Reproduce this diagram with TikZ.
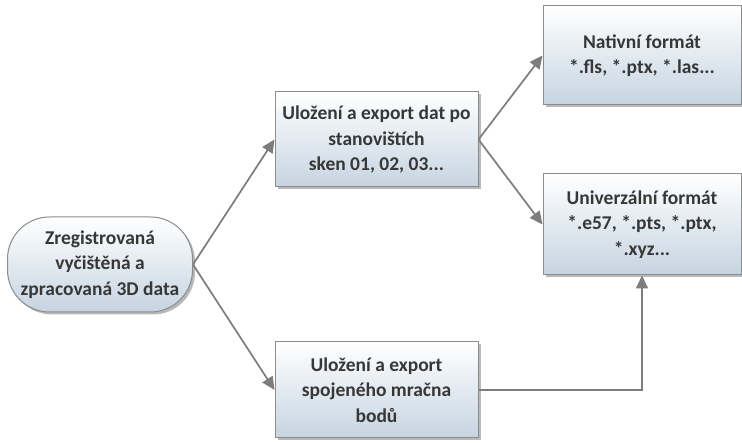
\documentclass[tikz,border=0pt]{standalone}
\usepackage{fontspec}
\setmainfont{Carlito}
\usetikzlibrary{shadows,arrows.meta}
\definecolor{boxedge}{RGB}{140,140,140}
\definecolor{boxlow}{RGB}{198,212,225}
\definecolor{txt}{RGB}{55,55,55}
\definecolor{link}{RGB}{125,125,125}
\begin{document}
\begin{tikzpicture}[x=1pt,y=-1pt,
  card/.style={draw=boxedge, line width=1pt, top color=white, bottom color=boxlow,
    drop shadow={shadow xshift=2.5pt,shadow yshift=-2.5pt,opacity=0.5,fill=black!55},
    align=center, text=txt, font=\fontsize{19.5}{25.5}\selectfont\bfseries,
    inner sep=2pt},
  link/.style={draw=link, line width=1.7pt, -{Triangle[length=13pt,width=12pt]}}
]
\useasboundingbox (0,0) rectangle (742,443);

% data source
\node[card, rounded corners=42pt, minimum width=185pt, minimum height=95pt]
  (src) at (100,264.5) {Zregistrovaná\\vyčištěná a\\zpracovaná 3D data};

% export per station
\node[card, minimum width=203pt, minimum height=95pt]
  (stations) at (376.5,139.5) {Uložení a export dat po\\stanovištích\\sken 01, 02, 03...};

% export of merged cloud
\node[card, minimum width=203pt, minimum height=96pt]
  (merged) at (376.5,390) {Uložení a export\\spojeného mračna\\bodů};

% output formats
\node[card, minimum width=198pt, minimum height=99pt]
  (native) at (642,55.5) {Nativní formát\\*.fls, *.ptx, *.las...};
\node[card, minimum width=198pt, minimum height=101pt]
  (universal) at (642,224.5) {Univerzální formát\\*.e57, *.pts, *.ptx,\\*.xyz...};

% connectors
\draw[link] (src.east) -- (stations.west);
\draw[link] (src.east) -- (merged.west);
\draw[link] (stations.east) -- (native.west);
\draw[link] (stations.east) -- (universal.west);
\draw[link] (merged.east) -- (merged.east -| universal.south) -- (universal.south);
\end{tikzpicture}
\end{document}
